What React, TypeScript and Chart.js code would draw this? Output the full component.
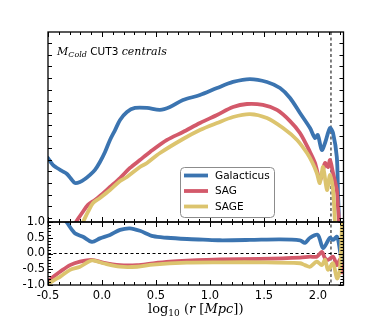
import React, { useEffect, useRef } from "react";
import { Chart, registerables } from "chart.js";

Chart.register(...registerables);

// ---------- axes ----------
const X_MIN = -0.5;
const X_MAX = 2.236;
const X_TICKS = [-0.5, 0, 0.5, 1, 1.5, 2];
const RATIO_TICKS = [-1, -0.5, 0, 0.5, 1];
const TOP_MIN = -0.34;
const TOP_MAX = 15.94;
const CUT_X = 2.12;

const SERIES = ["Galacticus", "SAG", "SAGE"];
const COLORS = ["#3b74b0", "#d3596a", "#dcc46e"];

// ---------- top panel (M_Cold, arbitrary units) ----------
const galX = [-0.5, -0.454, -0.416, -0.37, -0.324, -0.278, -0.25, -0.204, -0.158, -0.111, -0.065, -0.019, 0.028, 0.074, 0.121, 0.167, 0.231, 0.305, 0.417, 0.537, 0.629, 0.75, 0.907, 1.065, 1.213, 1.37, 1.527, 1.648, 1.741, 1.833, 1.926, 1.972, 1.998, 2.035, 2.065, 2.111, 2.139, 2.174, 2.185, 2.195];
const galY = [5.14, 4.54, 4.29, 4.03, 3.77, 3.26, 3.0, 3.09, 3.34, 3.69, 4.12, 4.8, 5.66, 6.69, 7.54, 8.4, 9.09, 9.43, 9.43, 9.26, 9.51, 10.11, 10.54, 11.14, 11.66, 11.91, 11.66, 11.14, 10.29, 9.0, 7.71, 6.86, 7.11, 5.83, 6.43, 7.71, 7.29, 5.23, 2.15, -0.34];

const sagX = [-0.241, -0.185, -0.13, -0.065, -0.019, 0.074, 0.167, 0.259, 0.351, 0.445, 0.602, 0.75, 0.907, 1.065, 1.213, 1.342, 1.49, 1.62, 1.741, 1.833, 1.926, 1.972, 2.017, 2.047, 2.065, 2.093, 2.111, 2.139, 2.174, 2.185, 2.195];
const sagY = [-0.34, 0.43, 1.12, 1.55, 1.89, 2.66, 3.43, 4.29, 4.97, 5.66, 6.69, 7.37, 8.14, 8.83, 9.51, 9.77, 9.69, 9.26, 8.31, 7.29, 5.66, 4.72, 3.26, 4.12, 4.72, 4.37, 4.97, 3.86, 2.4, 0.95, -0.34];

const sageX = [-0.176, -0.13, -0.083, -0.019, 0.074, 0.167, 0.231, 0.351, 0.417, 0.537, 0.75, 0.907, 1.065, 1.213, 1.37, 1.527, 1.676, 1.806, 1.898, 1.945, 1.989, 2.017, 2.047, 2.083, 2.111, 2.139, 2.157];
const sageY = [-0.34, 0.52, 1.29, 1.72, 2.4, 3.17, 3.52, 4.37, 4.72, 5.57, 6.77, 7.54, 8.14, 8.66, 8.91, 8.57, 7.71, 6.69, 5.57, 4.8, 3.86, 3.0, 4.37, 2.4, 3.69, 2.4, -0.34];

// ---------- bottom panel (ratio) ----------
const galRX = [-0.37, -0.324, -0.278, -0.25, -0.176, -0.093, -0.019, 0.074, 0.167, 0.259, 0.351, 0.473, 0.602, 0.787, 0.935, 1.092, 1.37, 1.648, 1.833, 1.879, 1.926, 1.998, 2.047, 2.111, 2.139, 2.176, 2.203, 2.223];
const galRY = [1.2, 0.98, 0.75, 0.64, 0.53, 0.37, 0.48, 0.59, 0.75, 0.8, 0.72, 0.55, 0.5, 0.46, 0.44, 0.42, 0.43, 0.45, 0.42, 0.34, 0.5, 0.59, 0.17, 0.5, 0.43, 0.53, 0.1, -0.3];

const sagRX = [-0.5, -0.436, -0.389, -0.296, -0.204, -0.093, 0.009, 0.167, 0.325, 0.473, 0.629, 0.787, 1.092, 1.463, 1.833, 1.926, 1.989, 2.035, 2.065, 2.093, 2.139, 2.176, 2.203, 2.223];
const sagRY = [-0.88, -0.7, -0.58, -0.37, -0.26, -0.2, -0.29, -0.37, -0.37, -0.31, -0.26, -0.23, -0.19, -0.17, -0.13, -0.1, -0.1, 0.05, -0.15, -0.2, -0.1, -0.37, -0.2, -0.6];

const sageRX = [-0.5, -0.436, -0.389, -0.296, -0.204, -0.093, 0.009, 0.167, 0.325, 0.473, 0.787, 1.092, 1.463, 1.833, 1.879, 1.926, 1.989, 2.035, 2.065, 2.093, 2.139, 2.176, 2.203, 2.223];
const sageRY = [-0.97, -0.83, -0.74, -0.52, -0.42, -0.22, -0.31, -0.42, -0.42, -0.35, -0.29, -0.28, -0.28, -0.31, -0.37, -0.42, -0.26, -0.37, -0.2, -0.52, -0.31, -0.79, -0.5, 1.0];

const pts = (xs: number[], ys: number[]) => xs.map((x, i) => ({ x, y: ys[i] }));

type Seg = { t: string; font: string; dy?: number };
function drawRun(ctx: CanvasRenderingContext2D, segs: Seg[], x: number, y: number, align: "left" | "center") {
  ctx.save();
  ctx.fillStyle = "#000";
  ctx.textBaseline = "alphabetic";
  ctx.textAlign = "left";
  let total = 0;
  for (const s of segs) { ctx.font = s.font; total += ctx.measureText(s.t).width; }
  let cx = align === "center" ? x - total / 2 : x;
  for (const s of segs) {
    ctx.font = s.font;
    ctx.fillText(s.t, cx, y + (s.dy || 0));
    cx += ctx.measureText(s.t).width;
  }
  ctx.restore();
}

const decor = {
  id: "decor",
  beforeDatasetDraw(chart: any, args: any) {
    const ys = args.meta.yScale;
    const a = chart.chartArea;
    const ctx = chart.ctx;
    ctx.save();
    ctx.beginPath();
    ctx.rect(a.left, ys.top, a.right - a.left, ys.bottom - ys.top);
    ctx.clip();
  },
  afterDatasetDraw(chart: any) {
    chart.ctx.restore();
  },
  beforeDatasetsDraw(chart: any) {
    const ctx = chart.ctx;
    const x = chart.scales.x;
    const yt = chart.scales.yt;
    const yr = chart.scales.yr;
    ctx.save();
    ctx.strokeStyle = "#000";
    ctx.lineWidth = 1;
    ctx.setLineDash([3, 2.5]);
    const y0 = yr.getPixelForValue(0);
    ctx.beginPath();
    ctx.moveTo(x.left, y0);
    ctx.lineTo(x.right, y0);
    const xc = x.getPixelForValue(CUT_X);
    ctx.moveTo(xc, yt.top);
    ctx.lineTo(xc, yr.bottom);
    ctx.stroke();
    ctx.restore();
  },
  afterDraw(chart: any) {
    const ctx: CanvasRenderingContext2D = chart.ctx;
    const x = chart.scales.x;
    const yt = chart.scales.yt;
    const yr = chart.scales.yr;
    const L = x.left, R = x.right;
    ctx.save();
    ctx.strokeStyle = "#000";
    ctx.lineWidth = 1;
    ctx.setLineDash([]);
    // x ticks
    const xMinor: number[] = [];
    for (let i = -5; i <= 22; i++) xMinor.push(i / 10);
    ctx.beginPath();
    for (const v of xMinor) {
      const px = Math.round(x.getPixelForValue(v)) + 0.5;
      const major = Math.abs(v * 2 - Math.round(v * 2)) < 1e-6;
      const len = major ? 5 : 3;
      for (const [y, d] of [[yt.top, 1], [yt.bottom, -1], [yr.top, 1], [yr.bottom, -1]] as [number, number][]) {
        ctx.moveTo(px, y);
        ctx.lineTo(px, y + d * len);
      }
    }
    // top panel y ticks
    for (let v = 0; v <= 15; v++) {
      const py = Math.round(yt.getPixelForValue(v)) + 0.5;
      ctx.moveTo(L, py); ctx.lineTo(L + 4, py);
      ctx.moveTo(R, py); ctx.lineTo(R - 4, py);
    }
    // ratio y ticks
    for (let i = -10; i <= 10; i++) {
      const v = i / 10;
      const py = Math.round(yr.getPixelForValue(v)) + 0.5;
      const len = i % 5 === 0 ? 5 : 3;
      ctx.moveTo(L, py); ctx.lineTo(L + len, py);
      ctx.moveTo(R, py); ctx.lineTo(R - len, py);
    }
    ctx.stroke();
    // frames
    ctx.lineWidth = 1.3;
    ctx.strokeRect(L, yt.top, R - L, yt.bottom - yt.top);
    ctx.strokeRect(L, yr.top, R - L, yr.bottom - yr.top);
    ctx.restore();

    // annotation
    drawRun(ctx, [
      { t: "M", font: "italic 11px 'DejaVu Serif'" },
      { t: "Cold", font: "italic 8px 'DejaVu Serif'", dy: 2.5 },
      { t: " CUT3 ", font: "10.5px 'DejaVu Sans'" },
      { t: "centrals", font: "italic 11px 'DejaVu Serif'" },
    ], L + 9, yt.top + 22.5, "left");

    // x title
    drawRun(ctx, [
      { t: "log", font: "13px 'DejaVu Serif'" },
      { t: "10", font: "9px 'DejaVu Serif'", dy: 3 },
      { t: " (", font: "13px 'DejaVu Serif'" },
      { t: "r", font: "italic 13px 'DejaVu Serif'" },
      { t: " [", font: "13px 'DejaVu Serif'" },
      { t: "Mpc", font: "italic 13px 'DejaVu Serif'" },
      { t: "])", font: "13px 'DejaVu Serif'" },
    ], (L + R) / 2 + 0, 313, "center");

    // legend
    const bx = 180, by = 167, bw = 94, bh = 50;
    ctx.save();
    ctx.beginPath();
    ctx.roundRect(bx + 0.5, by + 0.5, bw, bh, 4);
    ctx.fillStyle = "rgba(255,255,255,0.85)";
    ctx.fill();
    ctx.strokeStyle = "#8c8c8c";
    ctx.lineWidth = 1;
    ctx.stroke();
    ctx.font = "10.5px 'DejaVu Sans'";
    ctx.textBaseline = "middle";
    ctx.textAlign = "left";
    SERIES.forEach((name, i) => {
      const ly = by + 8.5 + i * 15.5;
      ctx.strokeStyle = COLORS[i];
      ctx.lineWidth = 3.8;
      ctx.beginPath();
      ctx.moveTo(bx + 4, ly);
      ctx.lineTo(bx + 28, ly);
      ctx.stroke();
      ctx.fillStyle = "#000";
      ctx.fillText(name, bx + 35, ly + 0.5);
    });
    ctx.restore();
  },
};

export default function App() {
  const ref = useRef<HTMLCanvasElement | null>(null);
  useEffect(() => {
    if (!ref.current) return;
    const common = { borderWidth: 3.8, pointRadius: 0, tension: 0.3, fill: false, borderCapStyle: "round", borderJoinStyle: "round" };
    const chart = new Chart(ref.current, {
      type: "line",
      data: {
        datasets: [
          { ...common, label: SERIES[0], data: pts(galX, galY), yAxisID: "yt", borderColor: COLORS[0], order: 3 },
          { ...common, label: SERIES[1], data: pts(sagX, sagY), yAxisID: "yt", borderColor: COLORS[1], order: 2 },
          { ...common, label: SERIES[2], data: pts(sageX, sageY), yAxisID: "yt", borderColor: COLORS[2], order: 1 },
          { ...common, label: SERIES[0] + " ratio", data: pts(galRX, galRY), yAxisID: "yr", borderColor: COLORS[0], order: 3 },
          { ...common, label: SERIES[1] + " ratio", data: pts(sagRX, sagRY), yAxisID: "yr", borderColor: COLORS[1], order: 2 },
          { ...common, label: SERIES[2] + " ratio", data: pts(sageRX, sageRY), yAxisID: "yr", borderColor: COLORS[2], order: 1 },
        ] as any,
      },
      options: {
        animation: false,
        responsive: false,
        maintainAspectRatio: false,
        events: [],
        layout: { padding: { left: 0, right: 38.5, top: 32, bottom: 0 } },
        plugins: { legend: { display: false }, tooltip: { enabled: false } },
        scales: {
          x: {
            type: "linear",
            position: "bottom",
            min: X_MIN,
            max: X_MAX,
            afterBuildTicks: (s: any) => { s.ticks = X_TICKS.map((v) => ({ value: v })); },
            afterFit: (s: any) => { s.height = 33; },
            ticks: {
              font: { family: "DejaVu Sans", size: 11.5 },
              color: "#000",
              padding: 4,
              maxRotation: 0,
              autoSkip: false,
              callback: (v: any) => Number(v).toFixed(1),
            },
            grid: { display: false, drawTicks: false },
            border: { display: false },
          },
          yr: {
            type: "linear",
            position: "left",
            stack: "panels",
            stackWeight: 63,
            min: -1,
            max: 1,
            afterBuildTicks: (s: any) => { s.ticks = RATIO_TICKS.map((v) => ({ value: v })); },
            afterFit: (s: any) => { s.width = 48; },
            ticks: {
              font: { family: "DejaVu Sans", size: 11.5 },
              color: "#000",
              padding: 3,
              autoSkip: false,
              callback: (v: any) => Number(v).toFixed(1),
            },
            grid: { display: false, drawTicks: false },
            border: { display: false },
          },
          yt: {
            type: "linear",
            position: "left",
            stack: "panels",
            stackWeight: 190,
            min: TOP_MIN,
            max: TOP_MAX,
            afterFit: (s: any) => { s.width = 48; },
            ticks: { display: false },
            grid: { display: false, drawTicks: false },
            border: { display: false },
          },
        },
      } as any,
      plugins: [decor as any],
    });
    return () => chart.destroy();
  }, []);
  return (
    <div style={{ position: "fixed", left: 0, top: 0, width: 382, height: 318 }}>
      <canvas ref={ref} width={382} height={318} style={{ display: "block", width: 382, height: 318 }} />
    </div>
  );
}
